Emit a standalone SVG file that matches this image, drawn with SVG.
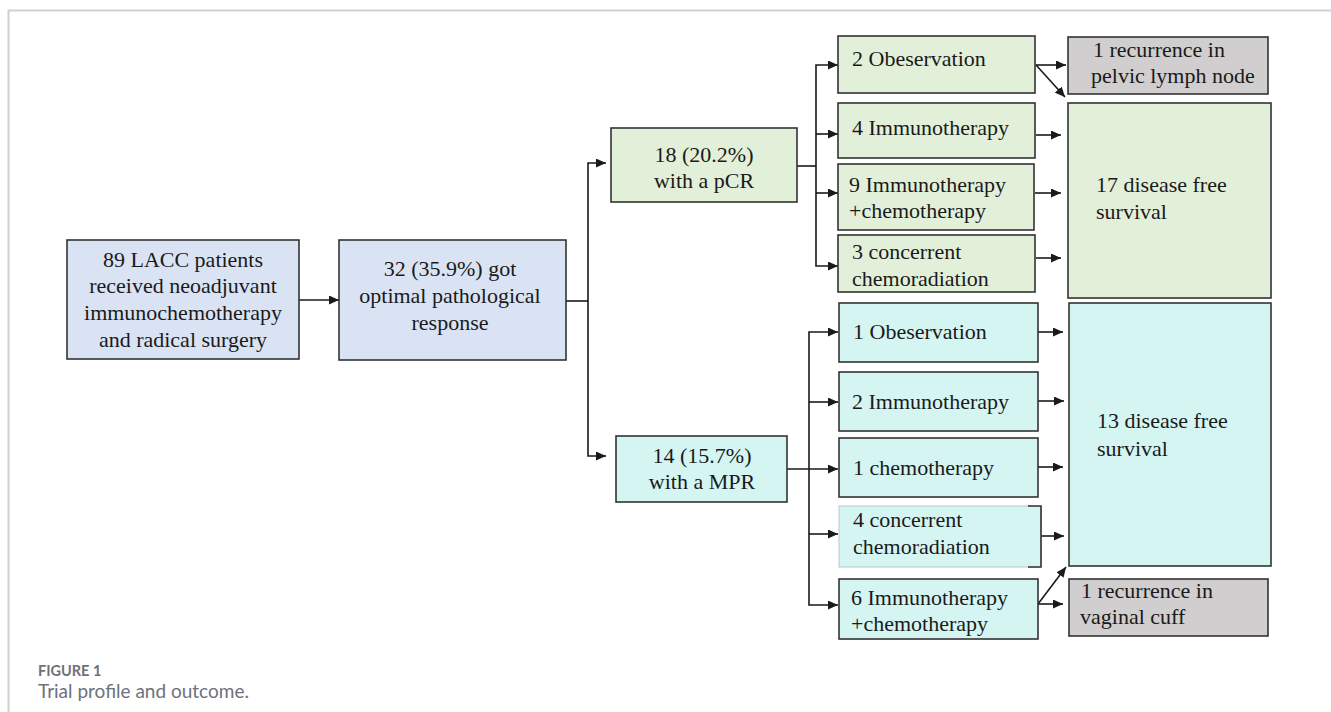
<svg xmlns="http://www.w3.org/2000/svg" width="1331" height="712" viewBox="0 0 1331 712">
<style>
.bx{stroke:#333;stroke-width:1.6}
.blue{fill:#dae3f3}
.green{fill:#e2f0d9}
.cyan{fill:#d5f5f3}
.gray{fill:#d0cece}
.t{font-family:"Liberation Serif","Times New Roman",serif;font-size:22px;fill:#1a1a1a}
.c{text-anchor:middle}
.ln{stroke:#1a1a1a;stroke-width:1.6;fill:none}
.ar{marker-end:url(#ah)}
.cap1{font-family:Lato,"Open Sans",sans-serif;font-weight:bold;font-size:14.5px;fill:#6e717b}
.cap2{font-family:Lato,"Open Sans",sans-serif;font-size:19px;fill:#6e717b}
</style>
<defs>
<marker id="ah" markerUnits="userSpaceOnUse" markerWidth="10" markerHeight="9" refX="10" refY="4.5" orient="auto">
<path d="M0,0 L10,4.5 L0,9 z" fill="#1a1a1a"/>
</marker>
</defs>
<rect width="1331" height="712" fill="#fff"/>
<path d="M8.5,712 V10.5 H1331" fill="none" stroke="#d0d0d4" stroke-width="2"/>

<g id="connectors">
<line class="ln ar" x1="299" y1="300" x2="339" y2="300"/>
<polyline class="ln" points="566,301 588,301"/>
<polyline class="ln ar" points="588,301 588,163 606,163"/>
<polyline class="ln ar" points="588,301 588,456 606,456"/>
<polyline class="ln" points="797,166 816,166"/>
<polyline class="ln ar" points="816,166 816,65 838,65"/>
<polyline class="ln ar" points="816,134 838,134"/>
<polyline class="ln ar" points="816,193 838,193"/>
<polyline class="ln ar" points="816,166 816,266 838,266"/>
<line class="ln ar" x1="1036" y1="65" x2="1066" y2="65"/>
<line class="ln ar" x1="1036" y1="65" x2="1065" y2="97"/>
<line class="ln ar" x1="1036" y1="135" x2="1061" y2="135"/>
<line class="ln ar" x1="1035" y1="193" x2="1061" y2="193"/>
<line class="ln ar" x1="1036" y1="258" x2="1061" y2="258"/>
<polyline class="ln ar" points="787,469 838,469"/>
<polyline class="ln ar" points="809,469 809,332 838,332"/>
<polyline class="ln ar" points="809,402 838,402"/>
<polyline class="ln ar" points="809,534 838,534"/>
<polyline class="ln ar" points="809,469 809,605 838,605"/>
<line class="ln ar" x1="1038" y1="332" x2="1063" y2="332"/>
<line class="ln ar" x1="1038" y1="401" x2="1064" y2="401"/>
<line class="ln ar" x1="1038" y1="467" x2="1063" y2="467"/>
<line class="ln ar" x1="1041" y1="536" x2="1064" y2="536"/>
<line class="ln ar" x1="1038" y1="604" x2="1063" y2="604"/>
<line class="ln ar" x1="1038" y1="604" x2="1066" y2="567"/>
</g>

<g id="n_lacc">
<rect class="bx blue" x="67" y="240" width="232" height="119"/>
<text class="t c" x="183" y="267">89 LACC patients</text>
<text class="t c" x="183" y="293">received neoadjuvant</text>
<text class="t c" x="183" y="320">immunochemotherapy</text>
<text class="t c" x="183" y="347">and radical surgery</text>
</g>

<g id="n_opr">
<rect class="bx blue" x="339" y="240" width="227" height="120"/>
<text class="t c" x="450" y="276">32 (35.9%) got</text>
<text class="t c" x="450" y="303">optimal pathological</text>
<text class="t c" x="450" y="330">response</text>
</g>

<g id="n_pcr">
<rect class="bx green" x="611" y="128" width="186" height="74"/>
<text class="t c" x="704" y="162">18 (20.2%)</text>
<text class="t c" x="704" y="188">with a pCR</text>
</g>

<g id="n_mpr">
<rect class="bx cyan" x="616" y="436" width="171" height="66"/>
<text class="t c" x="702" y="463">14 (15.7%)</text>
<text class="t c" x="702" y="489">with a MPR</text>
</g>

<g id="n_p_obs">
<rect class="bx green" x="838" y="36" width="197" height="57"/>
<text class="t" x="852" y="66">2 Obeservation</text>
</g>
<g id="n_p_imm">
<rect class="bx green" x="838" y="103" width="197" height="55"/>
<text class="t" x="852" y="135">4 Immunotherapy</text>
</g>
<g id="n_p_immchemo">
<rect class="bx green" x="838" y="164" width="196" height="66"/>
<text class="t" x="849" y="192">9 Immunotherapy</text>
<text class="t" x="849" y="218">+chemotherapy</text>
</g>
<g id="n_p_ccrt">
<rect class="bx green" x="838" y="235" width="197" height="57"/>
<text class="t" x="852" y="259">3 concerrent</text>
<text class="t" x="852" y="286">chemoradiation</text>
</g>

<g id="n_m_obs">
<rect class="bx cyan" x="839" y="303" width="199" height="59"/>
<text class="t" x="853" y="339">1 Obeservation</text>
</g>
<g id="n_m_imm">
<rect class="bx cyan" x="839" y="372" width="199" height="59"/>
<text class="t" x="852" y="409">2 Immunotherapy</text>
</g>
<g id="n_m_chemo">
<rect class="bx cyan" x="839" y="438" width="199" height="59"/>
<text class="t" x="853" y="475">1 chemotherapy</text>
</g>
<g id="n_m_ccrt">
<rect x="839" y="506" width="202" height="61" fill="#d5f5f3" stroke="#b8c9c9" stroke-width="1"/>
<path d="M1028,506 H1041 V567 H1028" fill="none" stroke="#333" stroke-width="1.6"/>
<text class="t" x="853" y="527">4 concerrent</text>
<text class="t" x="853" y="554">chemoradiation</text>
</g>
<g id="n_m_immchemo">
<rect class="bx cyan" x="839" y="579" width="199" height="60"/>
<text class="t" x="851" y="605">6 Immunotherapy</text>
<text class="t" x="851" y="631">+chemotherapy</text>
</g>

<g id="n_rec_pelvic">
<rect class="bx gray" x="1068" y="37" width="200" height="57"/>
<text class="t" x="1093" y="57">1 recurrence in</text>
<text class="t" x="1091" y="83">pelvic lymph node</text>
</g>
<g id="n_dfs17">
<rect class="bx green" x="1068" y="103" width="203" height="195"/>
<text class="t" x="1096" y="192">17 disease free</text>
<text class="t" x="1096" y="219">survival</text>
</g>
<g id="n_dfs13">
<rect class="bx cyan" x="1069" y="303" width="202" height="263"/>
<text class="t" x="1097" y="428">13 disease free</text>
<text class="t" x="1097" y="456">survival</text>
</g>
<g id="n_rec_vag">
<rect class="bx gray" x="1069" y="579" width="199" height="57"/>
<text class="t" x="1081" y="598">1 recurrence in</text>
<text class="t" x="1080" y="624">vaginal cuff</text>
</g>

<g id="caption">
<text class="cap1" x="38" y="676">FIGURE 1</text>
<text class="cap2" x="38" y="698">Trial profile and outcome.</text>
</g>
</svg>
